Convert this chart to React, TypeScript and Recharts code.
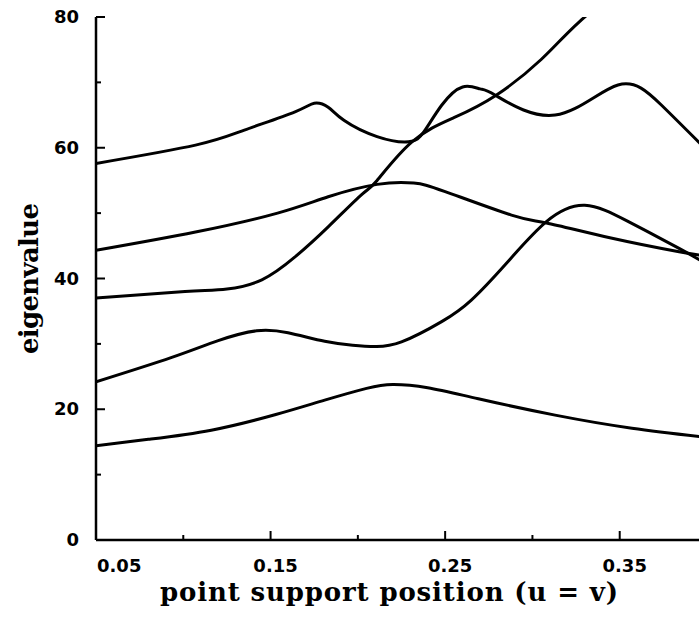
import { LineChart, Line, XAxis, YAxis } from "recharts";

// eigenvalue curves vs. point support position, one array pair per mode
const mode1U = [0.05, 0.08, 0.116, 0.153, 0.181, 0.205, 0.22, 0.24, 0.269, 0.313, 0.357, 0.4];
const mode1Ev = [14.4, 15.4, 16.8, 19.2, 21.4, 23.2, 23.8, 23.3, 21.6, 19.1, 17.1, 15.7];

const mode2U = [0.05, 0.093, 0.12, 0.142, 0.16, 0.181, 0.197, 0.21, 0.225, 0.248, 0.265, 0.285, 0.308, 0.33, 0.355, 0.384, 0.4];
const mode2Ev = [24.2, 27.9, 30.5, 32.0, 31.7, 30.4, 29.8, 29.6, 30.3, 33.4, 36.7, 42.3, 48.7, 51.2, 48.7, 44.6, 42.2];

const mode3U = [0.05, 0.101, 0.125, 0.145, 0.164, 0.183, 0.202, 0.211, 0.231, 0.255, 0.279, 0.305, 0.327, 0.36];
const mode3Ev = [37.0, 38.0, 38.4, 39.8, 43.3, 47.9, 52.8, 55.0, 60.9, 64.6, 68.0, 73.5, 79.3, 86.5];

const mode4U = [0.05, 0.107, 0.154, 0.183, 0.211, 0.232, 0.25, 0.288, 0.308, 0.345, 0.384, 0.4];
const mode4Ev = [44.3, 47.1, 50.0, 52.5, 54.4, 54.6, 53.3, 49.7, 48.5, 46.2, 44.1, 43.4];

const mode5U = [0.05, 0.107, 0.135, 0.164, 0.175, 0.183, 0.192, 0.211, 0.229, 0.238, 0.248, 0.26, 0.27, 0.279, 0.313, 0.349, 0.374, 0.4];
const mode5Ev = [57.6, 60.4, 62.7, 65.5, 66.8, 66.2, 64.2, 61.7, 60.9, 62.5, 66.5, 69.3, 69.0, 68.0, 65.0, 69.6, 66.5, 59.6];

const xTicks = [0.05, 0.1, 0.15, 0.2, 0.25, 0.3, 0.35, 0.4];
const xLabeled = [0.05, 0.15, 0.25, 0.35];
const yTicks = [0, 10, 20, 30, 40, 50, 60, 70, 80];
const yLabeled = [0, 20, 40, 60, 80];

const zip = (u: number[], ev: number[]) => u.map((x, i) => ({ u: x, ev: ev[i] }));
const modes = [
  zip(mode1U, mode1Ev),
  zip(mode2U, mode2Ev),
  zip(mode3U, mode3Ev),
  zip(mode4U, mode4Ev),
  zip(mode5U, mode5Ev),
];

const INK = "#000";
const tickFont = { fontFamily: "DejaVu Sans", fontWeight: 700, fontSize: 18 };
const titleFont = { fontFamily: "DejaVu Serif", fontWeight: 700, fontSize: 26 };

const near = (list: number[], v: number) => list.some((t) => Math.abs(t - v) < 1e-6);

function BottomTick({ x, y, payload }: any) {
  const v = payload.value as number;
  const major = near(xLabeled, v);
  const first = Math.abs(v - xLabeled[0]) < 1e-6;
  return (
    <g>
      <line x1={x} y1={y} x2={x} y2={y - (major ? 9 : 5)} stroke={INK} strokeWidth={2} />
      {major && (
        <text x={first ? x + 1 : x + 5} y={y + 32} textAnchor={first ? "start" : "middle"} fill={INK} {...tickFont}>
          {v.toFixed(2)}
        </text>
      )}
    </g>
  );
}

function TopTick({ x, y, payload }: any) {
  const major = near(xLabeled, payload.value);
  return <line x1={x} y1={y} x2={x} y2={y + (major ? 8 : 4)} stroke={INK} strokeWidth={2} />;
}

function LeftTick({ x, y, payload }: any) {
  const v = payload.value as number;
  const major = near(yLabeled, v);
  return (
    <g>
      <line x1={x} y1={y} x2={x + (major ? 9 : 5)} y2={y} stroke={INK} strokeWidth={2} />
      {major && (
        <text x={x - 17} y={y + 6} textAnchor="end" fill={INK} {...tickFont}>
          {v}
        </text>
      )}
    </g>
  );
}

export default function App() {
  return (
    <div style={{ position: "absolute", left: 0, top: 0, width: 699, height: 617, overflow: "hidden", background: "#fff" }}>
      <LineChart width={716} height={617} margin={{ top: 17, right: 9, bottom: 0, left: 0 }}>
        <XAxis
          dataKey="u"
          type="number"
          domain={[0.05, 0.4]}
          ticks={xTicks}
          allowDataOverflow
          height={77}
          axisLine={{ stroke: INK, strokeWidth: 2.5 }}
          tickLine={false}
          tickSize={0}
          tickMargin={0}
          tick={BottomTick}
          interval={0}
          label={{
            content: ({ viewBox }: any) => (
              <text
                x={viewBox.x + 64}
                y={viewBox.y + 61}
                textLength={458}
                lengthAdjust="spacing"
                fill={INK}
                {...titleFont}
              >
                point support position (u = v)
              </text>
            ),
          }}
        />
        <XAxis
          xAxisId="top"
          orientation="top"
          dataKey="u"
          type="number"
          domain={[0.05, 0.4]}
          ticks={xTicks}
          allowDataOverflow
          height={0}
          axisLine={{ stroke: INK, strokeWidth: 2.5 }}
          tickLine={false}
          tickSize={0}
          tickMargin={0}
          tick={TopTick}
          interval={0}
        />
        <YAxis
          type="number"
          domain={[0, 80]}
          ticks={yTicks}
          allowDataOverflow
          width={96}
          axisLine={{ stroke: INK, strokeWidth: 2.5 }}
          tickLine={false}
          tickSize={0}
          tickMargin={0}
          tick={LeftTick}
          interval={0}
          label={{
            content: ({ viewBox }: any) => {
              const cy = viewBox.y + viewBox.height / 2;
              return (
                <text
                  transform={`translate(38, ${cy}) rotate(-90)`}
                  textAnchor="middle"
                  textLength={151}
                  lengthAdjust="spacing"
                  fill={INK}
                  {...titleFont}
                >
                  eigenvalue
                </text>
              );
            },
          }}
        />
        {modes.map((data, i) => (
          <Line
            key={i}
            data={data}
            dataKey="ev"
            type="natural"
            stroke={INK}
            strokeWidth={3}
            dot={false}
            activeDot={false}
            isAnimationActive={false}
          />
        ))}
      </LineChart>
    </div>
  );
}
